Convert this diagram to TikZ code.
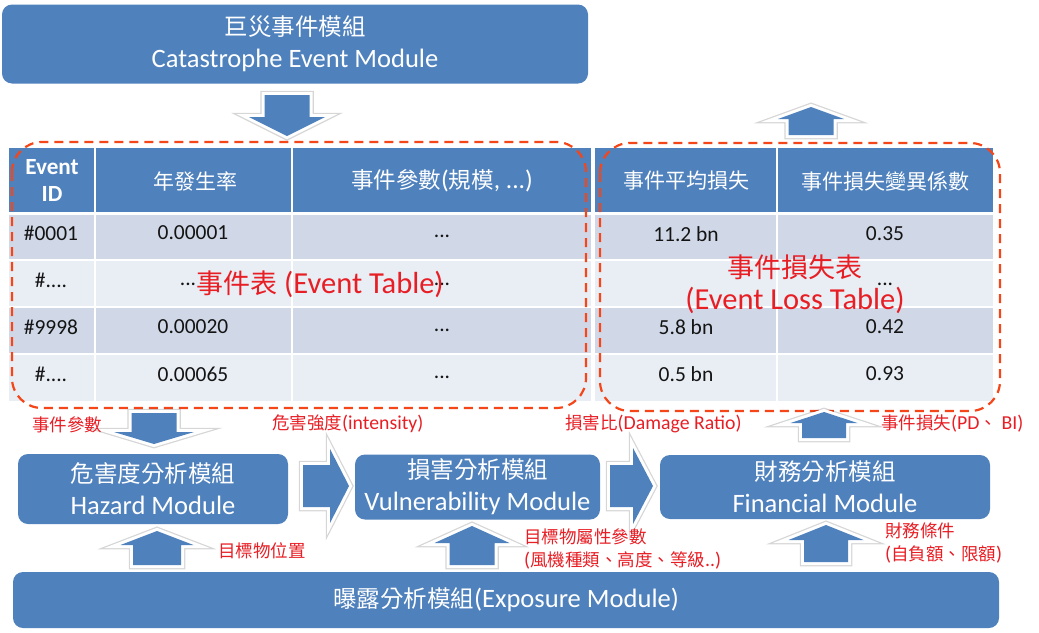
\documentclass[tikz,border=0pt]{standalone}
\usepackage{fontspec}
\setmainfont{Carlito}[Scale=1.13]
\newfontfamily\cjk{Noto Sans CJK TC}
\newcommand\C[1]{{\cjk #1}}
\newcommand\fs[2]{\fontsize{#1}{#2}\selectfont}
\definecolor{mblue}{RGB}{79,129,189}
\definecolor{rowA}{RGB}{208,216,232}
\definecolor{rowB}{RGB}{233,237,244}
\definecolor{lblred}{RGB}{232,30,37}
\definecolor{dashred}{RGB}{245,70,25}
\definecolor{txt}{RGB}{20,20,20}
\newcommand\vblock[6]{% cx, shaft half, head half, tail y, base y, tip y
  \path[blockarrow] (#1-#2,#4) -- (#1-#2,#5) -- (#1-#3,#5) -- (#1,#6) -- (#1+#3,#5) -- (#1+#2,#5) -- (#1+#2,#4) -- cycle;}
\newcommand\hblock[6]{% cy, shaft half, head half, tail x, base x, tip x
  \path[blockarrow] (#4,#1-#2) -- (#5,#1-#2) -- (#5,#1-#3) -- (#6,#1) -- (#5,#1+#3) -- (#5,#1+#2) -- (#4,#1+#2) -- cycle;}
\begin{document}
\begin{tikzpicture}[x=1pt,y=-1pt,
  module/.style={fill=mblue, rounded corners=10pt, text=white, align=center, inner sep=0pt, font=\fs{23.5}{32}},
  blockarrow/.style={fill=mblue, line join=miter,
     preaction={draw=black, opacity=0.16, line width=8.5pt, line join=miter},
     preaction={draw=white, line width=6pt, line join=miter}},
  cellt/.style={font=\fs{19}{22}, text=txt, inner sep=0pt},
  headt/.style={font=\fs{21}{26}, text=white, inner sep=0pt, align=center},
  lbl/.style={font=\fs{17.5}{23}, text=lblred, inner sep=0pt, align=left},
  bigred/.style={font=\fs{27}{32}, text=lblred, inner sep=0pt, align=center},
  dashbox/.style={draw=dashred, line width=2.2pt, dash pattern=on 9pt off 6pt, rounded corners=30pt}]
\useasboundingbox (0,0) rectangle (1039,632);
\fill[white] (0,0) rectangle (1039,632);

% top module
\node[module, minimum width=586pt, minimum height=79pt] (cat) at (295,44) {\C{巨災事件模組}\\Catastrophe Event Module};

% ---- left table ----
\fill[mblue] (9,148) rectangle (591,212);
\fill[rowA] (9,215) rectangle (591,260);
\fill[rowB] (9,260) rectangle (591,307);
\fill[rowA] (9,307) rectangle (591,354);
\fill[rowB] (9,354) rectangle (591,401);
\draw[white, line width=2pt] (95,148) -- (95,401) (292,148) -- (292,401);
\draw[white, line width=1.6pt] (9,260) -- (591,260) (9,307) -- (591,307) (9,354) -- (591,354);
% ---- right table ----
\fill[mblue] (595,148) rectangle (993,212);
\fill[rowA] (595,215) rectangle (993,260);
\fill[rowB] (595,260) rectangle (993,307);
\fill[rowA] (595,307) rectangle (993,354);
\fill[rowB] (595,354) rectangle (993,401);
\draw[white, line width=2pt] (777,148) -- (777,401);
\draw[white, line width=1.6pt] (595,260) -- (993,260) (595,307) -- (993,307) (595,354) -- (993,354);

% header texts
\node[headt, font=\fs{20.5}{27}\bfseries] (hid) at (52,180) {Event\\ID};
\node[headt] (hrate) at (195,181) {\C{年發生率}};
\node[headt, font=\fs{22.5}{26}] (hpar) at (442,181) {\C{事件參數}(\C{規模}, ...)};
\node[headt] (havg) at (686,181) {\C{事件平均損失}};
\node[headt] (hcv) at (885,181) {\C{事件損失變異係數}};

% body left
\node[cellt] (r1a) at (51,233) {\#0001};
\node[cellt] (r1b) at (193,233) {0.00001};
\node[cellt] (r1c) at (442,236) {...};
\node[cellt] (r2a) at (51,280) {\#....};
\node[cellt] (r2b) at (188,284) {...};
\node[cellt] (r2c) at (442,284) {...};
\node[cellt] (r3a) at (51,327) {\#9998};
\node[cellt] (r3b) at (193,327) {0.00020};
\node[cellt] (r3c) at (442,330) {...};
\node[cellt] (r4a) at (51,374) {\#....};
\node[cellt] (r4b) at (193,374) {0.00065};
\node[cellt] (r4c) at (442,377) {...};
% body right
\node[cellt] (s1a) at (686,234) {11.2 bn};
\node[cellt] (s1b) at (885,234) {0.35};
\node[cellt] (s2b) at (885,284) {...};
\node[cellt] (s3a) at (686,327) {5.8 bn};
\node[cellt] (s3b) at (885,327) {0.42};
\node[cellt] (s4a) at (686,374) {0.5 bn};
\node[cellt] (s4b) at (885,374) {0.93};

% big red labels
\node[bigred] (et) at (320,284) {\C{事件表} (Event Table)};
\node[bigred] (elt) at (795,284) {\C{事件損失表}\\(Event Loss Table)};

% dashed outlines
\draw[dashbox] (12,142) rectangle (586,408);
\draw[dashbox] (600,143) rectangle (1000,411);

% modules
\node[module, minimum width=270pt, minimum height=70pt] (haz) at (153,489) {\C{危害度分析模組}\\Hazard Module};
\node[module, minimum width=245pt, minimum height=65pt] (vul) at (477.5,487) {\C{損害分析模組}\\Vulnerability Module};
\node[module, minimum width=330pt, minimum height=64pt] (fin) at (825,487) {\C{財務分析模組}\\Financial Module};
\node[module, minimum width=986pt, minimum height=56pt] (exp) at (506,600) {\C{曝露分析模組}(Exposure Module)};

% block arrows
\vblock{287}{22.5}{38}{95}{117}{136}
\vblock{811}{22.5}{33}{135}{119}{107}
\vblock{154}{22.5}{40}{413}{432}{444}
\hblock{486}{21}{37}{303}{330}{349}
\hblock{486}{21}{38}{610}{633}{653}
\vblock{824}{22}{33.5}{438}{423}{412}
\vblock{157}{24}{36.5}{565}{545}{531}
\vblock{472}{22.5}{37.5}{565}{543}{526}
\vblock{826}{22}{37.5}{562}{540}{525}

% red labels
\node[lbl] (l1) at (67,425) {\C{事件參數}};
\node[lbl, anchor=west] (l2) at (272,424) {\C{危害強度}(intensity)};
\node[lbl, anchor=west] (l3) at (565,424) {\C{損害比}(Damage Ratio)};
\node[lbl, anchor=west] (l4) at (881,424) {\C{事件損失}(PD\C{、} BI)};
\node[lbl, anchor=west] (l5) at (218,551) {\C{目標物位置}};
\node[lbl, anchor=west] (l6) at (524,549) {\C{目標物屬性參數}\\(\C{風機種類、高度、等級}..)};
\node[lbl, anchor=west] (l7) at (885,543) {\C{財務條件}\\(\C{自負額、限額})};
\end{tikzpicture}
\end{document}
